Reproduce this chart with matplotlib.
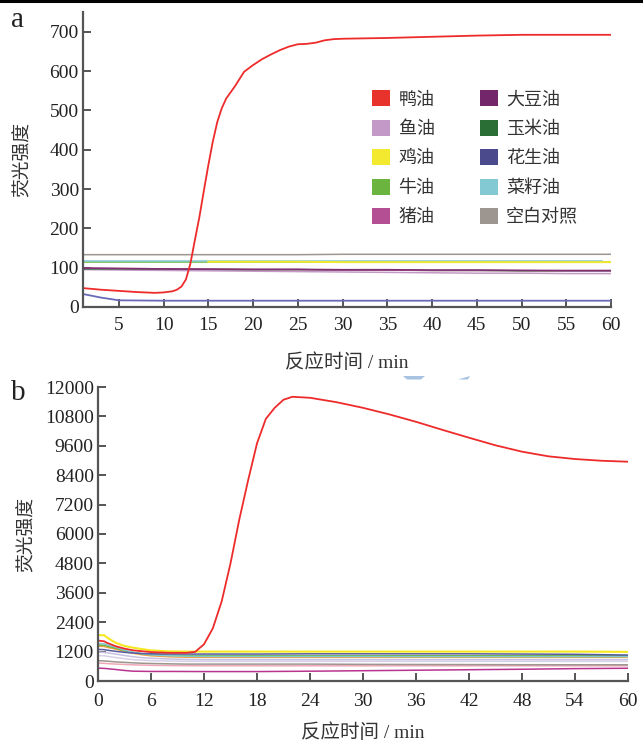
import matplotlib
matplotlib.use("Agg")
import matplotlib.pyplot as plt
from matplotlib.patches import Patch, Polygon
from matplotlib.lines import Line2D

plt.rcParams['font.family'] = ['serif']
plt.rcParams['font.serif'] = ['Liberation Serif', 'DejaVu Serif']
CJK = ['Noto Sans CJK SC', 'DejaVu Sans']
MIXED = ['Liberation Serif', 'Noto Sans CJK SC', 'DejaVu Sans']

# ---------------- legend categories and colours ----------------
oil_names = ['鸭油', '鱼油', '鸡油', '牛油', '猪油',
             '大豆油', '玉米油', '花生油', '菜籽油', '空白对照']
oil_colors = ['#e8332d', '#c39ac7', '#f3e92e', '#6bb43f', '#b54f93',
              '#74266a', '#2a6e36', '#4a4a8c', '#82c9d3', '#9c9590']

# ---------------- panel a: fluorescence vs time ----------------
duck_t = [1, 3, 5, 7, 9, 10, 11, 11.5, 12, 12.5, 13, 13.5, 14, 14.5, 15, 15.5,
          16, 16.5, 17, 18, 19, 20, 21, 22, 23, 24, 25, 26, 27, 28, 29, 30,
          35, 40, 45, 50, 55, 60]
duck_a = [48, 44, 41, 38, 36, 37, 40, 44, 52, 70, 110, 170, 228, 295, 360, 420,
          470, 505, 530, 562, 598, 615, 630, 642, 653, 662, 668, 669, 672, 678, 681, 682,
          684, 687, 690, 692, 692, 692]

ta = [1, 5, 10, 15, 20, 25, 30, 35, 40, 45, 50, 55, 60]
blank_a   = [133, 133, 133, 133, 133, 133, 134, 134, 134, 134, 134, 134, 134]
chicken_a = [115, 115, 115, 115, 115, 115, 114, 114, 114, 114, 114, 114, 114]
rape_a    = [116, 116, 116, 116, 116, 116, 116, 116, 116, 116, 116, 116, 116]
beef_a    = [115, 115, 115, 115, 115, 115, 115, 115, 115, 115, 115, 115, 115]
corn_a    = [97, 97, 96, 96, 95, 95, 94, 94, 93, 93, 92, 92, 92]
lard_a    = [99, 98, 97, 96, 95, 95, 94, 94, 93, 93, 93, 92, 92]
soy_a     = [99, 98, 97, 96, 96, 96, 95, 95, 94, 94, 93, 93, 93]
fish_a    = [95, 94, 93, 92, 91, 90, 89, 88, 87, 86, 86, 85, 85]

peanut_t = [1, 3, 5, 10, 20, 30, 40, 50, 60]
peanut_a = [33, 24, 17, 16, 16, 16, 16, 16, 16]

xticks_a = [5, 10, 15, 20, 25, 30, 35, 40, 45, 50, 55, 60]
yticks_a = [0, 100, 200, 300, 400, 500, 600, 700]

# ---------------- panel b ----------------
duck_tb = [0, 0.7, 1, 2, 3, 4, 6, 8, 10, 11, 12, 13, 14, 15, 16, 17, 18, 19,
           20, 21, 22, 24, 27, 30, 33, 36, 39, 42, 45, 48, 51, 54, 57, 60]
duck_b = [1650, 1620, 1560, 1420, 1320, 1250, 1180, 1150, 1150, 1190, 1500, 2150,
          3250, 4800, 6600, 8200, 9700, 10700, 11150, 11480, 11600, 11560, 11380,
          11150, 10880, 10580, 10250, 9930, 9620, 9360, 9170, 9060, 8990, 8950]

tb = [0, 0.7, 1, 2, 3, 4, 5, 6, 8, 10, 12, 18, 24, 30, 36, 42, 48, 54, 60]
chicken_b = [1870, 1870, 1780, 1560, 1430, 1360, 1300, 1250, 1210, 1200, 1200, 1200,
             1200, 1200, 1200, 1200, 1200, 1200, 1190]
peanut_b = [1290, 1280, 1260, 1210, 1170, 1140, 1120, 1110, 1100, 1100, 1100, 1100,
            1110, 1110, 1110, 1110, 1100, 1090, 1060]
rape_b = [1530, 1520, 1480, 1380, 1260, 1170, 1110, 1070, 1030, 1010, 1005, 1000,
          1000, 1000, 995, 995, 995, 995, 995]
beef_b = [1470, 1460, 1430, 1340, 1240, 1160, 1110, 1080, 1050, 1040, 1035, 1030,
          1030, 1030, 1030, 1030, 1030, 1030, 1030]
corn_b = [1420, 1410, 1380, 1300, 1210, 1130, 1070, 1030, 990, 970, 965, 965,
          965, 965, 965, 965, 965, 965, 965]
fish_b = [1180, 1170, 1150, 1100, 1040, 990, 950, 930, 900, 880, 870, 870,
          870, 870, 870, 870, 870, 870, 870]
soy_b = [1040, 1030, 1010, 960, 910, 870, 850, 830, 815, 805, 800, 800,
         800, 800, 800, 800, 800, 800, 800]
blank_b = [830, 820, 810, 780, 760, 740, 725, 715, 700, 690, 690, 690,
           690, 680, 675, 670, 665, 662, 662]
pink_b = [730, 720, 710, 690, 675, 660, 650, 640, 630, 625, 620, 620,
          620, 620, 620, 620, 620, 620, 620]
lard_b = [525, 515, 505, 470, 430, 400, 395, 390, 390, 388, 385, 385,
          400, 420, 440, 460, 480, 505, 520]

xticks_b = [0, 6, 12, 18, 24, 30, 36, 42, 48, 54, 60]
yticks_b = [0, 1200, 2400, 3600, 4800, 6000, 7200, 8400, 9600, 10800, 12000]

AX_COLOR = '#555555'

fig = plt.figure(figsize=(6.43, 7.46), dpi=100)
W, H = 643, 746


def style_axes(ax, xpad):
    for side in ('top', 'right'):
        ax.spines[side].set_visible(False)
    for side in ('left', 'bottom'):
        ax.spines[side].set_color(AX_COLOR)
        ax.spines[side].set_linewidth(1.6)
    ax.tick_params(direction='in', length=6, width=1.4, color=AX_COLOR,
                   labelsize=14, labelcolor='#222222')
    ax.tick_params(axis='x', pad=xpad)
    ax.tick_params(axis='y', pad=3)


# panel a
axa = fig.add_axes([83 / W, 1 - 307 / H, 528 / W, 295 / H])
style_axes(axa, 7)
lw = 1.1
axa.plot(ta, blank_a, color=oil_colors[9], lw=lw)
axa.plot(ta, fish_a, color=oil_colors[1], lw=lw)
axa.plot(ta, corn_a, color=oil_colors[6], lw=lw)
axa.plot(ta, lard_a, color=oil_colors[4], lw=lw)
axa.plot(ta, soy_a, color=oil_colors[5], lw=lw, alpha=0.8)
axa.plot(ta, beef_a, color=oil_colors[3], lw=lw)
axa.plot(ta[:-1] + [59], rape_a, color=oil_colors[8], lw=lw)
axa.plot(ta[3:], chicken_a[3:], color=oil_colors[2], lw=lw + 0.3)
axa.plot(peanut_t, peanut_a, color='#6a6ab8', lw=lw + 0.2)
axa.plot(duck_t, duck_a, color='#ee2b2b', lw=1.3)
axa.set_xlim(1, 60)
axa.set_ylim(0, 750)
axa.set_xticks(xticks_a)
axa.set_yticks(yticks_a)
axa.set_xlabel('反应时间 / min', fontsize=14, family=MIXED, color='#333333', labelpad=14)
axa.set_ylabel('荧光强度', fontsize=13.5, family=CJK, color='#333333', labelpad=12)

handles = [Patch(facecolor=oil_colors[i], edgecolor='none') for i in range(10)]
leg = axa.legend(handles, oil_names, ncol=2, loc='upper left',
                 bbox_to_anchor=(0.548, 0.735), frameon=False,
                 prop={'family': CJK, 'size': 13},
                 handlelength=1.0, handleheight=1.0, handletextpad=0.45,
                 labelspacing=0.62, columnspacing=2.5, borderpad=0, borderaxespad=0)
for t in leg.get_texts():
    t.set_color('#333333')

# panel b
axb = fig.add_axes([98 / W, 1 - 681 / H, 530 / W, 294 / H])
style_axes(axb, 9)
lwb = 1.1
axb.plot(tb, lard_b, color='#b8348f', lw=lwb)
axb.plot(tb, pink_b, color='#f0a8b8', lw=lwb)
axb.plot(tb, blank_b, color='#9c9590', lw=lwb)
axb.plot(tb, soy_b, color='#d8d0e8', lw=lwb)
axb.plot(tb, fish_b, color='#c8c0e0', lw=lwb)
axb.plot(tb, corn_b, color='#f0a040', lw=lwb)
axb.plot(tb, beef_b, color='#6bb43f', lw=lwb)
axb.plot(tb, rape_b, color='#82c9d3', lw=lwb)
axb.plot(tb, peanut_b, color='#5a5aa0', lw=lwb)
axb.plot(tb, chicken_b, color='#f5e820', lw=1.5)
axb.plot(duck_tb, duck_b, color='#ee2b2b', lw=1.3)
axb.set_xlim(0, 60)
axb.set_ylim(0, 12000)
axb.set_xticks(xticks_b)
axb.set_yticks(yticks_b)
axb.set_xlabel('反应时间 / min', fontsize=14, family=MIXED, color='#333333', labelpad=9)
axb.set_ylabel('荧光强度', fontsize=13.5, family=CJK, color='#333333', labelpad=6)

# panel letters
fig.text(11 / W, 1 - 20 / H, 'a', fontsize=21, va='center', ha='left', color='#222222')
fig.text(11 / W, 1 - 393 / H, 'b', fontsize=21, va='center', ha='left', color='#222222')

# rule along the top edge
fig.add_artist(Line2D([0, 1], [1 - 1 / H, 1 - 1 / H], color='black', lw=2.2,
                      transform=fig.transFigure))

# small blue marks between the panels
for pts in ([(403, 376), (425, 376), (421, 379.5), (407, 379.5)],
            [(458, 379.5), (470, 376), (468, 379.5)]):
    fig.add_artist(Polygon([(x / W, 1 - y / H) for x, y in pts], closed=True,
                           facecolor='#a9c2e2', edgecolor='none',
                           transform=fig.transFigure))

fig.savefig('out.png', dpi=100)
